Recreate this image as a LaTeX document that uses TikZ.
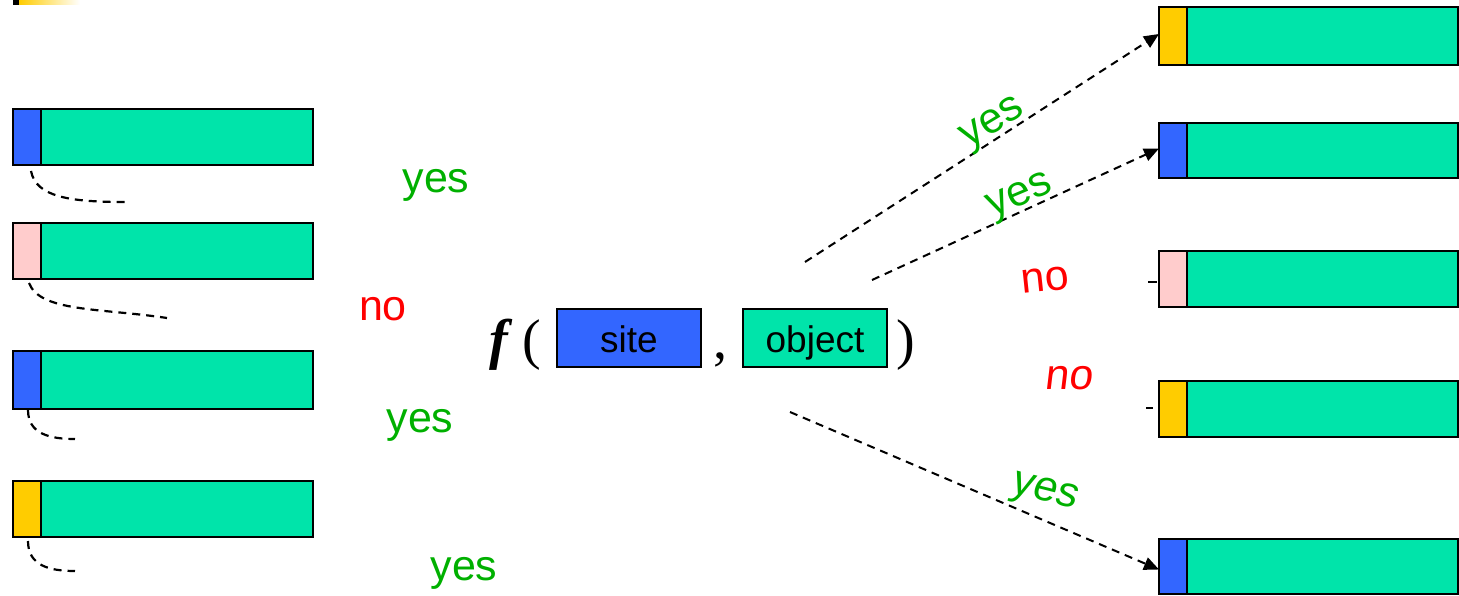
\documentclass[tikz,border=0pt]{standalone}
\usepackage{fontspec}
\setmainfont{Liberation Sans}
\newfontfamily\serifbi{Liberation Serif}
\usetikzlibrary{arrows.meta}
\definecolor{boxgreen}{HTML}{00E4AA}
\definecolor{boxblue}{HTML}{3366FF}
\definecolor{boxpink}{HTML}{FFCCCC}
\definecolor{boxyellow}{HTML}{FFCC00}
\definecolor{txtgreen}{HTML}{00B000}
\definecolor{txtred}{HTML}{FF0000}
\tikzset{
  tag/.style={draw=black, line width=2.6pt, inner sep=0pt, outer sep=0pt, minimum width=28pt, minimum height=56pt, anchor=north west},
  body/.style={draw=black, line width=2.6pt, fill=boxgreen, inner sep=0pt, outer sep=0pt, minimum width=272pt, minimum height=56pt, anchor=north west},
  dashcurve/.style={line width=2.2pt, dash pattern=on 8pt off 6pt},
  dasharrow/.style={line width=2pt, dash pattern=on 8pt off 6pt, -{Triangle[length=15pt,width=13pt]}},
  yeslbl/.style={text=txtgreen, font=\fontsize{43}{43}\selectfont, inner sep=0pt},
  nolbl/.style={text=txtred, font=\fontsize{43}{43}\selectfont, inner sep=0pt},
  argbox/.style={draw=black, line width=2.6pt, inner sep=0pt, minimum width=144pt, minimum height=58pt, text height=28pt, text depth=0pt, font=\fontsize{37}{37}\selectfont},
  bigsym/.style={font=\serifbi\fontsize{56}{56}\selectfont, inner sep=0pt, anchor=base}
}
\begin{document}
\begin{tikzpicture}[x=1pt,y=-1pt]
\useasboundingbox (0,0) rectangle (1459,596);
% top-left decoration
\fill[black] (13,0) rectangle (19,5);
\shade[left color=boxyellow, right color=white] (19,0) rectangle (80,5);

% left boxes
\node[tag, fill=boxblue]   (l1s) at (13,109) {};
\node[body] (l1b) at (l1s.north east) {};
\node[tag, fill=boxpink]   (l2s) at (13,223) {};
\node[body] (l2b) at (l2s.north east) {};
\node[tag, fill=boxblue, minimum height=58pt]   (l3s) at (13,351) {};
\node[body, minimum height=58pt] (l3b) at (l3s.north east) {};
\node[tag, fill=boxyellow]   (l4s) at (13,481) {};
\node[body] (l4b) at (l4s.north east) {};

% left dashed curves
\coordinate (c1a) at (31,171); \coordinate (c1b) at (125,202);
\coordinate (c2a) at (29,283); \coordinate (c2b) at (167,318);
\coordinate (c3a) at (28,410); \coordinate (c3b) at (75,439);
\coordinate (c4a) at (28,541); \coordinate (c4b) at (75,571);
\draw[dashcurve] (c1a) .. controls (36,197) and (70,202) .. (c1b);
\draw[dashcurve] (c2a) .. controls (40,312) and (100,308) .. (c2b);
\draw[dashcurve] (c3a) .. controls (28,434) and (50,439) .. (c3b);
\draw[dashcurve] (c4a) .. controls (28,566) and (50,571) .. (c4b);

% left labels
\node[yeslbl, anchor=base] (ly1) at (436,193) {yes};
\node[nolbl, anchor=base]  (ln2) at (383,320) {no};
\node[yeslbl, anchor=base] (ly3) at (420,432) {yes};
\node[yeslbl, anchor=base] (ly4) at (464,580) {yes};

% center expression
\node[bigsym] (fn) at (499,358) {\bfseries\itshape f};
\node[bigsym] (lp) at (532,358) {(};
\node[argbox, fill=boxblue] (site) at (629,338) {site};
\node[bigsym] (cm) at (720,358) {,};
\node[argbox, fill=boxgreen] (obj) at (815,338) {object};
\node[bigsym] (rp) at (906,358) {)};

% right boxes
\node[tag, fill=boxyellow, minimum height=58pt] (r1s) at (1159,7) {};
\node[body, minimum height=58pt, minimum width=271pt] (r1b) at (r1s.north east) {};
\node[tag, fill=boxblue, minimum height=55pt] (r2s) at (1159,123) {};
\node[body, minimum height=55pt, minimum width=271pt] (r2b) at (r2s.north east) {};
\node[tag, fill=boxpink] (r3s) at (1159,251) {};
\node[body, minimum width=271pt] (r3b) at (r3s.north east) {};
\node[tag, fill=boxyellow] (r4s) at (1159,381) {};
\node[body, minimum width=271pt] (r4b) at (r4s.north east) {};
\node[tag, fill=boxblue, minimum height=55pt] (r5s) at (1159,539) {};
\node[body, minimum height=55pt, minimum width=271pt] (r5b) at (r5s.north east) {};

% small ticks
\coordinate (t3a) at (1148,282); \coordinate (t3b) at (1157,282);
\coordinate (t4a) at (1146,408); \coordinate (t4b) at (1153,408);
\draw[line width=2.2pt] (t3a) -- (t3b);
\draw[line width=2.2pt] (t4a) -- (t4b);

% arrows
\coordinate (a1) at (805,262);
\coordinate (a2) at (872,280);
\coordinate (a3) at (790,412);
\draw[dasharrow] (a1) -- ([yshift=2pt]r1s.west);
\draw[dasharrow] (a2) -- ([yshift=2pt]r2s.west);
\draw[dasharrow] (a3) -- ([yshift=-3pt]r5s.west);

% right labels
\node[yeslbl, rotate=31] (ry1) at (994,125) {yes};
\node[yeslbl, rotate=23] (ry2) at (1021,198) {yes};
\node[nolbl, rotate=6] (rn3) at (1045,280) {no};
\node[nolbl, xslant=0.12] (rn4) at (1070,378) {no};
\node[yeslbl, rotate=-14, xslant=0.1] (ry5) at (1044,494) {yes};
\end{tikzpicture}
\end{document}
